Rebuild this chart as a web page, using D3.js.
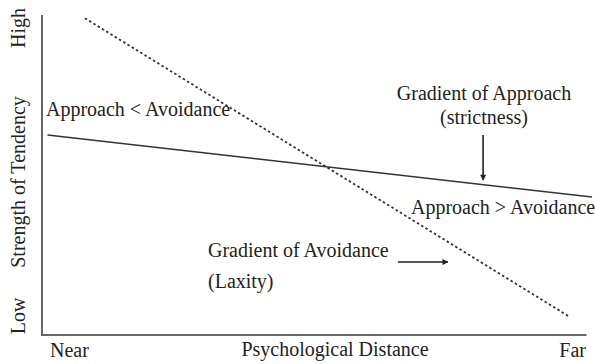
<!DOCTYPE html>
<html>
<head>
<meta charset="utf-8">
<script src="https://cdn.jsdelivr.net/npm/d3@7"></script>
<style>
    html, body { margin: 0; padding: 0; background: #fff; }
    svg text { font-family: "Liberation Serif", "Times New Roman", serif; font-size: 20px; fill: #222; }
</style>
</head>
<body>
<svg id="chart" width="595" height="364" font-family="Liberation Serif, serif"></svg>
<script>
// data (distance 0..10, strength 0..10)
var approach_x = [0.1, 10];
var approach_y = [6.25, 4.31];
var avoidance_x = [0.78, 9.6];
var avoidance_y = [9.9, 0.56];

// arrows: [x1, y1, x2, y2] in data units
var arrow_approach = [8.02, 6.25, 8.02, 4.84];
var arrow_avoidance = [6.47, 2.28, 7.38, 2.28];

var x_tick_labels = ["Near", "Psychological Distance", "Far"];
var y_tick_labels = ["Low", "Strength of Tendency", "High"];

var svg = d3.select("#chart");

var x = d3.scaleLinear().domain([0, 10]).range([42, 592]),
    y = d3.scaleLinear().domain([0, 10]).range([335, 15]);

var defs = svg.append("defs");
defs.append("marker")
    .attr("id", "head")
    .attr("viewBox", "0 0 10 10")
    .attr("refX", 9).attr("refY", 5)
    .attr("markerWidth", 8).attr("markerHeight", 6)
    .attr("markerUnits", "userSpaceOnUse")
    .attr("orient", "auto")
    .append("path")
    .attr("d", "M0,0 L10,5 L0,10 z")
    .attr("fill", "#222");

// axes (plain lines, no ticks)
svg.append("line")
    .attr("x1", x(0)).attr("x2", x(0))
    .attr("y1", y(10)).attr("y2", y(0) + 1)
    .attr("stroke", "#666").attr("stroke-width", 2);
svg.append("line")
    .attr("x1", x(0)).attr("x2", x(9.9))
    .attr("y1", y(0)).attr("y2", y(0))
    .attr("stroke", "#666").attr("stroke-width", 2);

var line = d3.line()
    .x(function (d) { return x(d[0]); })
    .y(function (d) { return y(d[1]); });

// gradient of approach (solid)
svg.append("path")
    .datum(d3.zip(approach_x, approach_y))
    .attr("d", line)
    .attr("fill", "none")
    .attr("stroke", "#333")
    .attr("stroke-width", 1.6);

// gradient of avoidance (dotted)
svg.append("path")
    .datum(d3.zip(avoidance_x, avoidance_y))
    .attr("d", line)
    .attr("fill", "none")
    .attr("stroke", "#333")
    .attr("stroke-width", 1.8)
    .attr("stroke-dasharray", "2.5,2.5");

// arrows
[arrow_approach, arrow_avoidance].forEach(function (a) {
    svg.append("line")
        .attr("x1", x(a[0])).attr("y1", y(a[1]))
        .attr("x2", x(a[2])).attr("y2", y(a[3]))
        .attr("stroke", "#222").attr("stroke-width", 1.6)
        .attr("marker-end", "url(#head)");
});

// x labels
svg.append("text").attr("x", 50).attr("y", 357).text(x_tick_labels[0]);
svg.append("text").attr("x", 335).attr("y", 356).attr("text-anchor", "middle").text(x_tick_labels[1]);
svg.append("text").attr("x", 586).attr("y", 357).attr("text-anchor", "end").text(x_tick_labels[2]);

// y labels (rotated)
var y_label_pos = [316, 182, 28];
y_tick_labels.forEach(function (t, i) {
    svg.append("text")
        .attr("transform", "translate(25," + y_label_pos[i] + ") rotate(-90)")
        .attr("text-anchor", "middle")
        .text(t);
});

// annotations
svg.append("text").attr("x", 46).attr("y", 116).text("Approach < Avoidance");
svg.append("text").attr("x", 484).attr("y", 100).attr("text-anchor", "middle").text("Gradient of Approach");
svg.append("text").attr("x", 484).attr("y", 124).attr("text-anchor", "middle").text("(strictness)");
svg.append("text").attr("x", 411).attr("y", 214).text("Approach > Avoidance");
svg.append("text").attr("x", 208).attr("y", 257).text("Gradient of Avoidance");
svg.append("text").attr("x", 208).attr("y", 288).text("(Laxity)");
</script>
</body>
</html>
